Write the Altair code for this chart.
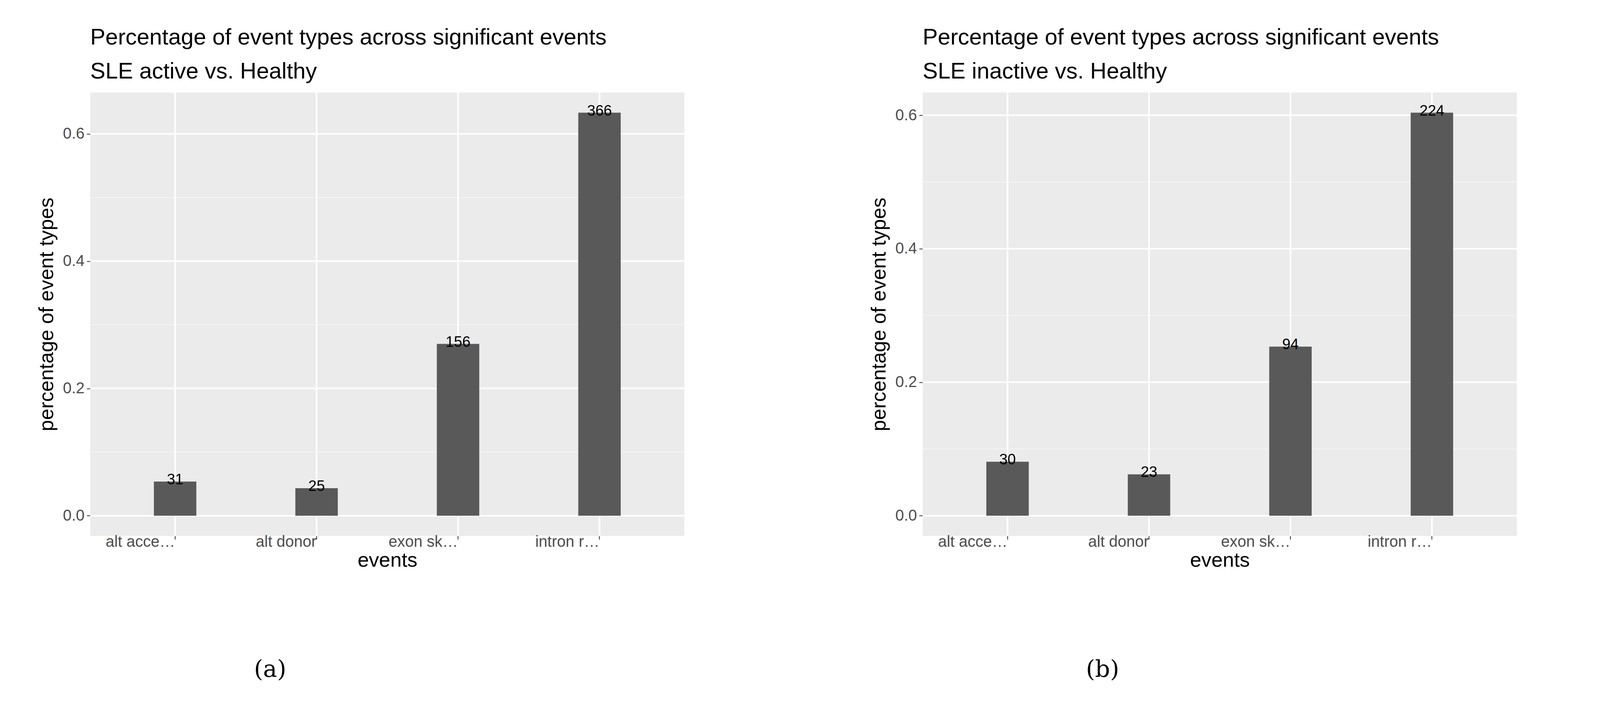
import altair as alt
import pandas as pd

events = ["alt acceptor", "alt donor", "exon skipping", "intron retention"]
counts_active = [31, 25, 156, 366]
counts_inactive = [30, 23, 94, 224]

W, H = 1521, 1135
FONT = "Liberation Sans"


def panel(counts, subtitle, caption):
    total = sum(counts)
    df = pd.DataFrame({"events": events, "count": counts,
                       "pct": [c / total for c in counts]})
    top = max(df["pct"])
    dom = [-0.05 * top, 1.05 * top]
    xs = alt.Scale(domain=events, paddingInner=0.7, paddingOuter=0.45)
    ys = alt.Scale(domain=dom, nice=False, zero=False)

    base = alt.Chart(df)
    major = pd.DataFrame({"v": [v / 10 for v in range(0, 7, 2) if v / 10 <= dom[1]]})
    minor = pd.DataFrame({"v": [v / 10 for v in range(1, 7, 2) if v / 10 <= dom[1]]})
    ygrid_minor = alt.Chart(minor).mark_rule(color="#F5F5F5", strokeWidth=2).encode(
        y=alt.Y("v:Q", scale=ys))
    ygrid = alt.Chart(major).mark_rule(color="white", strokeWidth=4).encode(
        y=alt.Y("v:Q", scale=ys))
    xgrid = base.mark_rule(color="white", strokeWidth=4).encode(
        x=alt.X("events:N", scale=xs))
    bars = base.mark_bar(color="#595959").encode(
        x=alt.X("events:N", scale=xs, title="events",
                axis=alt.Axis(labelAngle=0)),
        y=alt.Y("pct:Q", scale=ys, title="percentage of event types",
                axis=alt.Axis(values=major["v"].tolist(), format=".1f")),
    )
    labels = base.mark_text(fontSize=38, font=FONT, color="black",
                            baseline="middle", dy=-4).encode(
        x=alt.X("events:N", scale=xs), y=alt.Y("pct:Q", scale=ys), text="count:Q")
    cap = alt.Chart(pd.DataFrame({"t": [caption]})).mark_text(
        fontSize=60, font="DejaVu Serif", color="black").encode(
        x=alt.value(W / 2 - 300), y=alt.value(1478), text="t:N")
    return alt.layer(ygrid_minor, ygrid, xgrid, bars, labels, cap).properties(
        width=W, height=H,
        title=alt.TitleParams(
            ["Percentage of event types across significant events", subtitle],
            anchor="start", frame="group", fontSize=58, font=FONT,
            fontWeight="normal", color="black", offset=22, lineHeight=87),
    )


chart = alt.hconcat(
    panel(counts_active, "SLE active vs. Healthy", "(a)"),
    panel(counts_inactive, "SLE inactive vs. Healthy", "(b)"),
    spacing=610,
).properties(
    bounds="flush",
    padding={"left": 85, "top": 60, "right": 10, "bottom": 10},
).configure_view(fill="#EBEBEB", stroke=None).configure_axis(
    domain=False, grid=False, tickColor="#333333", tickSize=9, tickWidth=2,
    labelFontSize=40, labelColor="#4D4D4D", labelFont=FONT, labelPadding=6,
    titleFontSize=52, titleFont=FONT, titleColor="black", titleFontWeight="normal",
).configure_axisX(titlePadding=2).configure_axisY(titlePadding=14)

chart.save("out.html", embed_options={"renderer": "svg", "actions": False})
